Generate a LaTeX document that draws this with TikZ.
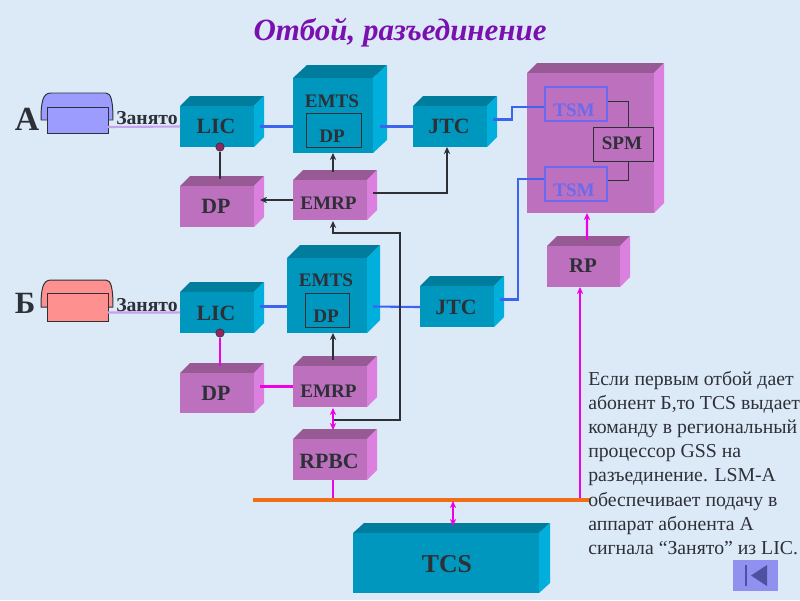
\documentclass[tikz,border=0pt]{standalone}
\usepackage{fontspec}
\setmainfont{Liberation Serif}
\usetikzlibrary{calc, positioning, fit}
\usetikzlibrary{arrows.meta}

\definecolor{paper}{HTML}{DCEAF8}
\definecolor{ink}{HTML}{2E3038}
\definecolor{cyanfront}{HTML}{0097BF}
\definecolor{cyantop}{HTML}{007C9C}
\definecolor{cyanside}{HTML}{00AFDC}
\definecolor{plumfront}{HTML}{BC70BE}
\definecolor{plumtop}{HTML}{985A94}
\definecolor{plumside}{HTML}{DC80E0}
\definecolor{wireblue}{HTML}{3C64EE}
\definecolor{wirepink}{HTML}{F000E6}
\definecolor{wirebus}{HTML}{F06E14}
\definecolor{wirelav}{HTML}{C8A0F0}
\definecolor{tsmblue}{HTML}{6A6AF0}
\definecolor{dotred}{HTML}{902860}
\definecolor{btnfill}{HTML}{9090F0}
\definecolor{btnmark}{HTML}{5050A0}
\definecolor{titlecol}{HTML}{7A10B0}
\definecolor{phoneblue}{HTML}{9C9CFF}
\definecolor{phonered}{HTML}{FF9090}

\tikzset{
  face/.style={inner sep=0pt,outer sep=0pt,fit=#1},
  lbl/.style={inner sep=0pt,text=ink,font=\bfseries\fontsize{15.5}{17}\selectfont},
  lblsmall/.style={lbl,font=\bfseries\fontsize{13.6}{15}\selectfont},
  inbox/.style={draw=ink,line width=0.7pt,inner sep=0pt},
  blue/.style={wireblue,line width=1.5pt},
  pink/.style={wirepink,line width=1.5pt},
  dark/.style={ink,line width=1.5pt},
  tip/.style={-{Stealth[length=5pt,width=4.5pt]}},
  tips/.style={{Stealth[length=5pt,width=4.5pt]}-{Stealth[length=5pt,width=4.5pt]}},
  dot/.style={circle,fill=dotred,draw=ink,line width=0.4pt,minimum size=6pt,inner sep=0pt},
}

% name, x1, y1, x2, y2, depth x, depth y, colour set
\newcommand{\cube}[8]{
  \fill[#8top] (#2,#3)--++(#6,-#7)--(#4+#6,#3-#7)--(#4,#3)--cycle;
  \fill[#8side] (#4,#3)--(#4+#6,#3-#7)--(#4+#6,#5-#7)--(#4,#5)--cycle;
  \coordinate (#1a) at (#2,#3);
  \coordinate (#1b) at (#4,#5);
  \node[face={(#1a)(#1b)},fill=#8front] (#1) {};
}
% name, top y, body top y, body bottom y, colour
\newcommand{\phone}[5]{
  \draw[ink,line width=0.7pt,fill=#5] (41,#2+27) .. controls (41,#2+8) and (43,#2) .. (51,#2)
    -- (106,#2) .. controls (111,#2) and (113,#2+8) .. (113,#2+27) -- cycle;
  \coordinate (#1a) at (47.5,#3);
  \coordinate (#1b) at (108,#4);
  \node[face={(#1a)(#1b)},fill=#5,draw=ink,line width=0.7pt] (#1) {};
}

\begin{document}
\begin{tikzpicture}[x=0.025cm,y=-0.025cm]
\useasboundingbox (0,0) rectangle (800,600);
\fill[paper] (0,0) rectangle (800,600);

\node[inner sep=0pt,text=titlecol,font=\bfseries\itshape\fontsize{22}{26}\selectfont] (title) at (400,33) {Отбой, разъединение};

% subscriber A
\phone{phoneA}{93}{107}{133}{phoneblue}
\node[lbl,font=\bfseries\fontsize{24}{26}\selectfont] (nameA) at (27,119) {А};
\cube{licA}{180}{106}{254}{147}{10}{10}{cyan}
\cube{emtsA}{293}{78}{373}{153}{14}{13}{cyan}
\cube{dpA}{180}{186}{254}{227}{10}{10}{plum}
\cube{emrpA}{293}{180}{367}{220}{10}{10}{plum}
\cube{jtcA}{413}{106}{487}{147}{10}{10}{cyan}
\cube{switch}{527}{73}{654}{213}{10}{10}{plum}
\cube{rp}{547}{246}{620}{287}{10}{10}{plum}

% subscriber B
\phone{phoneB}{280}{293}{321}{phonered}
\node[lbl,font=\bfseries\fontsize{22}{24}\selectfont] (nameB) at (25,303) {Б};
\cube{licB}{180}{292}{254}{333}{10}{10}{cyan}
\cube{emtsB}{287}{258}{367}{333}{13}{13}{cyan}
\cube{dpB}{180}{373}{254}{413}{10}{10}{plum}
\cube{emrpB}{293}{366}{367}{407}{10}{10}{plum}
\cube{jtcB}{420}{286}{494}{327}{10}{10}{cyan}
\cube{rpbc}{293}{439}{367}{480}{10}{10}{plum}
\cube{tcs}{353}{533}{539}{593}{11}{10}{cyan}

% inner boxes
\node[inbox,minimum width=13.6mm,minimum height=8.5mm] (dpinA) at (334,130) {};
\node[inbox,minimum width=11.2mm,minimum height=8.5mm] (dpinB) at (327.5,310) {};
\node[inbox,draw=tsmblue,line width=0.8pt,minimum width=15.5mm,minimum height=8.5mm] (tsmA) at (576,104) {};
\node[inbox,draw=tsmblue,line width=0.8pt,minimum width=15.5mm,minimum height=8.5mm] (tsmB) at (576,184) {};
\node[inbox,minimum width=14.8mm,minimum height=8.5mm] (spm) at (623.5,144) {};

% connectors
\draw[wirelav,line width=1.5pt] ($(phoneA.east)+(0,7)$) -- (licA.west);
\draw[wirelav,line width=1.5pt] ($(phoneB.east)+(0,5.5)$) -- (licB.west);
\draw[blue] ($(licA.east)+(6,0)$) -- (emtsA.west |- licA.east);
\draw[blue] ($(emtsA.east |- jtcA.west)+(7,0)$) -- (jtcA.west);
\draw[blue] ($(jtcA.east)+(6,-7)$) -| ($(tsmA.west)+(-32,3)$) -- ($(tsmA.west)+(0,3)$);
\draw[blue] ($(licB.east)+(6,-6)$) -- ($(emtsB.west)+(0,11)$);
\draw[blue] ($(emtsB.east)+(6,11)$) -- ($(jtcB.west)+(0,0.5)$);
\draw[blue] ($(jtcB.east)+(6,-7)$) -| ($(tsmB.west)+(-26,-5)$) -- ($(tsmB.west)+(0,-5)$);

\node[dot] (dotA) at ($(licA.south)+(3,0)$) {};
\node[dot] (dotB) at ($(licB.south)+(3,0)$) {};
\draw[dark] (dotA) -- ($(dpA.north)+(3,-7)$);
\draw[pink] (dotB) -- ($(dpB.north)+(3,-7)$);
\draw[dark,tip] ($(emrpA.north)+(3,-8)$) -- (emtsA.south);
\draw[dark,tip] (emrpA.west) -- ($(dpA.east |- emrpA.west)+(6,0)$);
\draw[dark,tip] ($(emrpA.east)+(6,-7)$) -| ($(jtcA.south)+(-3,0)$);
\draw[dark,tip] ($(emrpB.south)+(3,13)$) -| (400,233) -| ($(emrpA.south)+(3,1)$);
\draw[dark,tip] ($(emrpB.north)+(3,-6)$) -- ($(emtsB.south)+(6,0)$);
\draw[pink] ($(dpB.east |- emrpB.west)+(6,0)$) -- (emrpB.west);
\draw[pink,tips] ($(emrpB.south)+(3,1)$) -- ($(rpbc.north)+(3,-9)$);
\draw[pink,tip] ($(rp.north)+(3.5,-6)$) -- ($(switch.south)+(-3.5,0)$);

\draw[ink,line width=0.7pt] ($(tsmA.east)+(0,-3)$) -| ($(spm.north)+(4.5,0)$);
\draw[ink,line width=0.7pt] ($(tsmB.east)+(0,-4)$) -| ($(spm.south)+(4.5,0)$);

% bus
\coordinate (busL) at (253,500);
\coordinate (busR) at (590,500);
\coordinate (busP) at (580,500);
\draw[pink] ($(rpbc.south)+(3,0)$) -- ($(rpbc.south)+(3,20)$);
\draw[pink,tip] (busP) -- (busP |- rp.south);
\draw[wirebus,line width=2.2pt] (busL) -- (busR);
\draw[pink,tips] ($(tcs.north)+(7,-32)$) -- ($(tcs.north)+(7,-7)$);

% labels
\node[lbl] (licAt) at (216,126.5) {LIC};
\node[lbl] (licBt) at (216,313) {LIC};
\node[lbl] (jtcAt) at (449,126.5) {JTC};
\node[lbl] (jtcBt) at (456,307) {JTC};
\node[lbl] (dpAt) at (216,206) {DP};
\node[lbl] (dpBt) at (216,393) {DP};
\node[lblsmall] (emtsAt) at (332,101) {EMTS};
\node[lblsmall] (emtsBt) at (326,280) {EMTS};
\node[lblsmall] (dpinAt) at (332,136) {DP};
\node[lblsmall] (dpinBt) at (326,316) {DP};
\node[lblsmall] (emrpAt) at (328.5,203) {EMRP};
\node[lblsmall] (emrpBt) at (328.5,391) {EMRP};
\node[lblsmall,text=tsmblue] (tsmAt) at (574,110.5) {TSM};
\node[lblsmall,text=tsmblue] (tsmBt) at (574,190) {TSM};
\node[lblsmall] (spmt) at (622,143.5) {SPM};
\node[lbl,font=\bfseries\fontsize{14.8}{16}\selectfont] (rpt) at (583,266) {RP};
\node[lbl] (rpbct) at (329,461) {RPBC};
\node[lbl,font=\bfseries\fontsize{18.3}{20}\selectfont] (tcst) at (447,564) {TCS};
\node[lblsmall,font=\bfseries\fontsize{14}{15}\selectfont] (busyA) at (147,118) {Занято};
\node[lblsmall,font=\bfseries\fontsize{14}{15}\selectfont] (busyB) at (147,305.5) {Занято};

\node[anchor=north west,inner sep=0pt,align=left,text=ink,font=\fontsize{14.05}{17.15}\selectfont] (note) at (588,371)
  {Если первым отбой дает\\абонент Б,то TCS выдает\\команду в региональный\\процессор GSS на\\разъединение. LSM-A\\обеспечивает подачу в\\аппарат абонента А\\сигнала “Занято” из LIC.};

% back button
\node[fill=btnfill,minimum width=11.2mm,minimum height=7.7mm,inner sep=0pt] (back) at (755.5,575.5) {};
\fill[btnmark] (767,565) -- (767,586) -- (751,575.5) -- cycle;
\draw[btnmark,line width=0.8pt] (746,565) -- (746,586);
\end{tikzpicture}
\end{document}
